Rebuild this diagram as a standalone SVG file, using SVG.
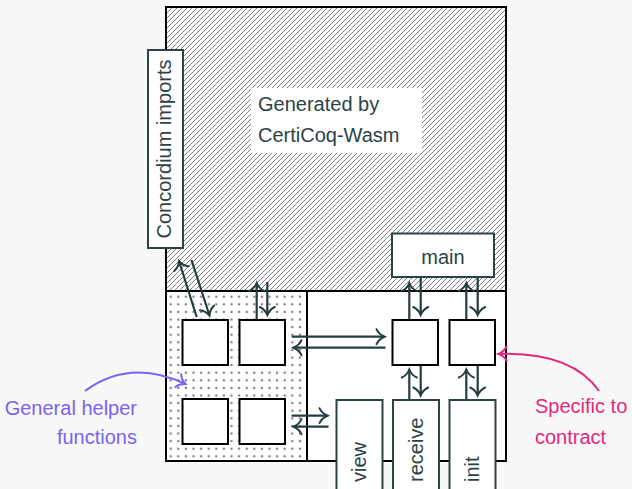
<svg xmlns="http://www.w3.org/2000/svg" width="632" height="489" viewBox="0 0 632 489">
<style>
text{font-family:"Liberation Sans",Arial,sans-serif;font-size:20px;fill:#2c4346}
.sq{fill:#fff;stroke:#000;stroke-width:2}
.nb{fill:#fff;stroke:#2c4346;stroke-width:2}
.ar{fill:none;stroke:#263d40;stroke-width:2.2;marker-end:url(#ah)}
.frame{fill:none;stroke:#000;stroke-width:2}
</style>
<defs>
<pattern id="hatch" patternUnits="userSpaceOnUse" width="5" height="5">
<path d="M0,5 L5,0 M-1,1 L1,-1 M4,6 L6,4" stroke="#707070" stroke-width="0.9"/>
</pattern>
<pattern id="dots" patternUnits="userSpaceOnUse" x="166.9" y="292.9" width="7.6" height="7.6">
<circle cx="3.8" cy="3.8" r="1.25" fill="#808080"/>
</pattern>
<marker id="ah" markerUnits="userSpaceOnUse" markerWidth="20" markerHeight="20" viewBox="-10 -10 20 20" refX="0" refY="0" orient="auto" overflow="visible">
<path d="M-8,-7.5 C-6,-3 -2.5,-1 0,0 C-2.5,1 -6,3 -8,7.5" fill="none" stroke="#263d40" stroke-width="2" stroke-linecap="round"/>
</marker>
<marker id="ahp" markerUnits="userSpaceOnUse" markerWidth="20" markerHeight="20" viewBox="-10 -10 20 20" refX="0" refY="0" orient="auto" overflow="visible">
<path d="M-8,-7 C-6,-3 -2.5,-1 0,0 C-2.5,1 -6,3 -8,7" fill="none" stroke="#7b62f2" stroke-width="2" stroke-linecap="round"/>
</marker>
<marker id="ahm" markerUnits="userSpaceOnUse" markerWidth="20" markerHeight="20" viewBox="-10 -10 20 20" refX="0" refY="0" orient="auto" overflow="visible">
<path d="M-8,-7 C-6,-3 -2.5,-1 0,0 C-2.5,1 -6,3 -8,7" fill="none" stroke="#e2297c" stroke-width="2" stroke-linecap="round"/>
</marker>
</defs>
<rect width="632" height="489" fill="#f8f8f8"/>
<g id="module">
<rect x="166" y="7" width="340" height="454" fill="#fff"/>
<rect x="166" y="7" width="340" height="284" fill="url(#hatch)"/>
<rect x="166" y="291" width="141" height="170" fill="url(#dots)"/>
<rect x="166" y="7" width="340" height="454" class="frame"/>
<line x1="166" y1="291" x2="506" y2="291" stroke="#000" stroke-width="2"/>
<line x1="307" y1="291" x2="307" y2="461" stroke="#000" stroke-width="2"/>
</g>
<g id="generated">
<rect x="251" y="88" width="171" height="65" fill="#fff"/>
<text x="258" y="111">Generated by</text>
<text x="258" y="142">CertiCoq-Wasm</text>
</g>
<g id="imports">
<rect x="148" y="50" width="35" height="198" class="nb"/>
<text transform="translate(171,149) rotate(-90)" text-anchor="middle">Concordium imports</text>
</g>
<g id="main">
<rect x="392" y="233.5" width="102" height="43.5" class="nb"/>
<text x="443" y="263.5" text-anchor="middle">main</text>
</g>
<g id="helper1"><rect x="182.5" y="320" width="45.5" height="45" class="sq"/></g>
<g id="helper2"><rect x="239.5" y="320" width="45.5" height="45" class="sq"/></g>
<g id="helper3"><rect x="182.5" y="399" width="45.5" height="45" class="sq"/></g>
<g id="helper4"><rect x="239.5" y="399" width="45.5" height="45" class="sq"/></g>
<g id="specific1"><rect x="392.5" y="320" width="45.5" height="45" class="sq"/></g>
<g id="specific2"><rect x="449.5" y="320" width="45.5" height="45" class="sq"/></g>
<g id="connectors">
<line x1="196.7" y1="317" x2="179" y2="261" class="ar"/>
<line x1="191.5" y1="260" x2="209.5" y2="315.5" class="ar"/>
<line x1="256.7" y1="319" x2="256.7" y2="283" class="ar"/>
<line x1="267.3" y1="282" x2="267.3" y2="315" class="ar"/>
<line x1="291.7" y1="336.7" x2="384.5" y2="336.7" class="ar"/>
<line x1="385.5" y1="347.7" x2="293.5" y2="347.7" class="ar"/>
<line x1="291.7" y1="415.7" x2="327.5" y2="415.7" class="ar"/>
<line x1="328.5" y1="426.7" x2="293.5" y2="426.7" class="ar"/>
<line x1="409.3" y1="319" x2="409.3" y2="283" class="ar"/>
<line x1="420.7" y1="278" x2="420.7" y2="315" class="ar"/>
<line x1="466.3" y1="319" x2="466.3" y2="283" class="ar"/>
<line x1="477.7" y1="278" x2="477.7" y2="315" class="ar"/>
<line x1="409.3" y1="399" x2="409.3" y2="369.5" class="ar"/>
<line x1="420.7" y1="366" x2="420.7" y2="395.5" class="ar"/>
<line x1="466.3" y1="399" x2="466.3" y2="369.5" class="ar"/>
<line x1="477.7" y1="366" x2="477.7" y2="395.5" class="ar"/>
<path d="M85,391 Q130,358 185.5,384" fill="none" stroke="#7b62f2" stroke-width="2" marker-end="url(#ahp)"/>
<path d="M599,391 Q571,351.5 498.5,354" fill="none" stroke="#e2297c" stroke-width="2" marker-end="url(#ahm)"/>
</g>
<g id="view">
<rect x="336.5" y="400" width="46" height="100" class="nb"/>
<text transform="translate(366,482) rotate(-90)">view</text>
</g>
<g id="receive">
<rect x="393" y="400" width="46" height="100" class="nb"/>
<text transform="translate(422.5,482) rotate(-90)">receive</text>
</g>
<g id="init">
<rect x="449.5" y="400" width="46" height="100" class="nb"/>
<text transform="translate(478.5,482) rotate(-90)">init</text>
</g>
<g id="label-general">
<text x="137" y="415" text-anchor="end" style="fill:#7b62f2">General helper</text>
<text x="137" y="443.5" text-anchor="end" style="fill:#7b62f2">functions</text>
</g>
<g id="label-specific">
<text x="535" y="413" style="fill:#e2297c">Specific to</text>
<text x="535" y="444" style="fill:#e2297c">contract</text>
</g>
</svg>
